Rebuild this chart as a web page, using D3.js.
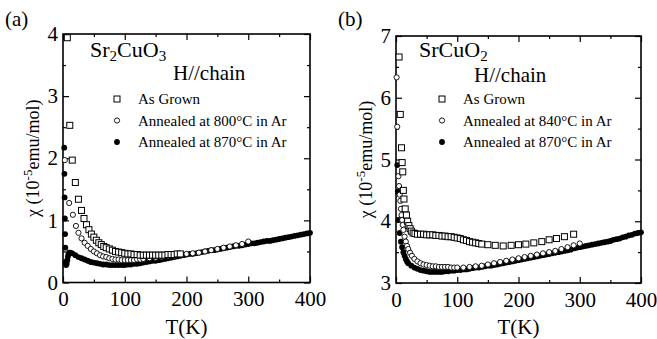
<!DOCTYPE html>
<html>
<head>
<meta charset="utf-8">
<script src="https://cdn.jsdelivr.net/npm/d3@7"></script>
<style>
  body { margin: 0; background: #fff; }
  svg { display: block; font-family: "Liberation Serif", "Times New Roman", serif; }
</style>
</head>
<body>
<div id="chart"></div>
<script>
// ---- panel (a) Sr2CuO3 ----
const aGrownT = [7, 11, 15, 20, 25, 30, 34, 38, 42, 46, 50, 54, 58, 62, 66, 70, 75, 80, 85, 90, 95, 100, 105, 110, 115, 120, 125, 130, 135, 140, 145, 150, 155, 160, 165, 170, 175, 180, 185, 190];
const aGrownChi = [3.94, 2.53, 1.97, 1.61, 1.34, 1.16, 1.03, 0.93, 0.85, 0.78, 0.73, 0.68, 0.64, 0.61, 0.58, 0.56, 0.54, 0.52, 0.5, 0.49, 0.48, 0.47, 0.46, 0.46, 0.45, 0.45, 0.44, 0.44, 0.44, 0.44, 0.44, 0.44, 0.44, 0.44, 0.44, 0.45, 0.45, 0.45, 0.46, 0.46];

const a800T = [3, 10, 16, 21, 25, 30, 35, 40, 45, 50, 55, 60, 65, 70, 75, 80, 85, 90, 95, 100, 105, 110, 115, 120, 125, 130, 140, 150, 160, 170, 180, 190, 200, 210, 220, 230, 240, 250, 260, 270, 280, 290, 300];
const a800Chi = [1.97, 1.28, 1.09, 0.91, 0.8, 0.71, 0.64, 0.59, 0.54, 0.5, 0.47, 0.44, 0.42, 0.41, 0.39, 0.38, 0.37, 0.37, 0.36, 0.36, 0.36, 0.36, 0.36, 0.37, 0.37, 0.38, 0.39, 0.4, 0.41, 0.42, 0.43, 0.44, 0.46, 0.47, 0.48, 0.5, 0.52, 0.54, 0.56, 0.58, 0.6, 0.62, 0.66];

const a870T = [2, 2.3, 2.6, 3, 3.4, 3.8, 4.2, 5, 6, 7, 8, 9, 10, 12,
  15, 20, 25, 30, 35, 40, 45, 50, 55, 60, 65, 70, 75, 80, 85, 90, 95, 100,
  105, 110, 115, 120, 125, 130, 135, 140, 145, 150, 155, 160, 165, 170, 175, 180, 185, 190, 195, 200,
  205, 210, 215, 220, 225, 230, 235, 240, 245, 250, 255, 260, 265, 270, 275, 280, 285, 290, 295, 300,
  305, 310, 315, 320, 325, 330, 335, 340, 345, 350, 355, 360, 365, 370, 375, 380, 385, 390, 395, 400];
const a870Chi = [2.17, 1.75, 1.37, 1.03, 0.78, 0.56, 0.33, 0.28, 0.3, 0.36, 0.42, 0.46, 0.48, 0.48,
  0.47, 0.44, 0.41, 0.39, 0.37, 0.35, 0.33, 0.32, 0.31, 0.3, 0.29, 0.29, 0.28, 0.28, 0.28, 0.28, 0.28, 0.28,
  0.29, 0.29, 0.3, 0.3, 0.31, 0.32, 0.33, 0.34, 0.35, 0.35, 0.36, 0.37, 0.38, 0.39, 0.4, 0.41, 0.42, 0.43, 0.44, 0.45,
  0.46, 0.46, 0.47, 0.48, 0.49, 0.5, 0.51, 0.52, 0.52, 0.53, 0.54, 0.55, 0.56, 0.57, 0.58, 0.59, 0.59, 0.6, 0.61, 0.62,
  0.63, 0.63, 0.64, 0.65, 0.66, 0.67, 0.67, 0.68, 0.69, 0.7, 0.71, 0.72, 0.73, 0.74, 0.75, 0.76, 0.77, 0.78, 0.79, 0.8];

// ---- panel (b) SrCuO2 ----
const bGrownT = [5, 7, 9, 10, 11, 12, 13, 15, 17, 19, 21, 23, 25, 28, 31, 35, 40, 45, 50, 55, 60, 65, 70, 75, 80, 85, 90, 95, 100, 105, 110, 115, 120, 125, 130, 135, 140, 150, 162, 175, 188, 200, 212, 225, 238, 250, 262, 275, 290];
const bGrownChi = [6.66, 5.73, 5.19, 4.95, 4.8, 4.5, 4.36, 4.2, 4.1, 4.0, 3.93, 3.88, 3.84, 3.81, 3.8, 3.79, 3.79, 3.79, 3.78, 3.78, 3.78, 3.77, 3.77, 3.76, 3.76, 3.75, 3.75, 3.74, 3.73, 3.72, 3.7, 3.69, 3.67, 3.66, 3.65, 3.64, 3.63, 3.62, 3.61, 3.6, 3.61, 3.62, 3.63, 3.65, 3.67, 3.7, 3.72, 3.75, 3.79];

const b840T = [1, 2, 4, 5, 6, 7, 8, 9, 10, 11, 12, 14, 16, 18, 20, 23, 26, 30, 35, 40, 45, 50, 55, 60, 65, 70, 75, 80, 85, 90, 95, 100, 110, 120, 130, 140, 150, 160, 170, 180, 190, 200, 210, 220, 230, 240, 250, 260, 270, 280, 290, 300];
const b840Chi = [6.33, 5.53, 4.73, 4.57, 4.43, 4.33, 4.2, 4.1, 4.02, 3.94, 3.86, 3.75, 3.67, 3.6, 3.55, 3.49, 3.44, 3.39, 3.35, 3.32, 3.3, 3.29, 3.28, 3.27, 3.27, 3.26, 3.26, 3.26, 3.26, 3.25, 3.25, 3.25, 3.25, 3.26, 3.27, 3.28, 3.3, 3.32, 3.34, 3.36, 3.38, 3.4, 3.42, 3.44, 3.46, 3.48, 3.5, 3.52, 3.55, 3.58, 3.61, 3.64];

const b870T = [2, 3, 4, 6, 8, 10, 12, 14, 16, 18, 20,
  25, 30, 35, 40, 45, 50, 55, 60, 65, 70, 75, 80, 85, 90, 95, 100,
  105, 110, 115, 120, 125, 130, 135, 140, 145, 150, 155, 160, 165, 170, 175, 180, 185, 190, 195, 200,
  205, 210, 215, 220, 225, 230, 235, 240, 245, 250, 255, 260, 265, 270, 275, 280, 285, 290, 295, 300,
  305, 310, 315, 320, 325, 330, 335, 340, 345, 350, 355, 360, 365, 370, 375, 380, 385, 390, 395, 400];
const b870Chi = [4.91, 4.48, 4.02, 3.81, 3.67, 3.58, 3.5, 3.44, 3.39, 3.35, 3.32,
  3.28, 3.25, 3.23, 3.21, 3.2, 3.19, 3.18, 3.18, 3.18, 3.18, 3.18, 3.19, 3.19, 3.2, 3.2, 3.21,
  3.21, 3.22, 3.22, 3.23, 3.24, 3.25, 3.25, 3.26, 3.27, 3.28, 3.28, 3.29, 3.3, 3.31, 3.32, 3.33, 3.34, 3.35, 3.36, 3.37,
  3.38, 3.39, 3.4, 3.41, 3.42, 3.43, 3.44, 3.45, 3.46, 3.47, 3.48, 3.49, 3.5, 3.51, 3.52, 3.53, 3.54, 3.56, 3.57, 3.58,
  3.59, 3.6, 3.61, 3.62, 3.63, 3.64, 3.65, 3.66, 3.67, 3.68, 3.7, 3.71, 3.72, 3.74, 3.75, 3.77, 3.78, 3.8, 3.81, 3.82];

const xTicks = [0, 100, 200, 300, 400];
const xMinor = [50, 150, 250, 350];
const aYTicks = [0, 1, 2, 3, 4];
const aYMinor = [0.5, 1.5, 2.5, 3.5];
const bYTicks = [3, 4, 5, 6, 7];
const bYMinor = [3.5, 4.5, 5.5, 6.5];

const width = 657, height = 339;

const svg = d3.select("#chart").append("svg")
  .attr("width", width)
  .attr("height", height);

function zip(t, c) { return t.map((v, i) => [v, c[i]]); }

function tickAxis(g, axis, tr, values, size, withLabels, pad) {
  g.append("g").attr("transform", tr)
    .call(axis.tickValues(values).tickSizeInner(-size).tickSizeOuter(0)
      .tickPadding(pad).tickFormat(withLabels ? d3.format("d") : ""))
    .call(s => s.select(".domain").remove())
    .call(s => s.selectAll("text").attr("font-size", 21).attr("fill", "#000")
      .attr("font-family", "Liberation Serif, Times New Roman, serif"))
    .call(s => s.selectAll("line").attr("stroke", "#000").attr("stroke-width", 1.2));
}

function drawPanel(p) {
  const x = d3.scaleLinear().domain([0, 400]).range([p.left, p.right]);
  const y = d3.scaleLinear().domain(p.yDomain).range([p.bottom, p.top]);
  const g = svg.append("g");

  // ticks on all four sides, pointing inward
  tickAxis(g, d3.axisBottom(x), `translate(0,${p.bottom})`, xTicks, 6, true, 9);
  tickAxis(g, d3.axisBottom(x), `translate(0,${p.bottom})`, xMinor, 3, false, 9);
  tickAxis(g, d3.axisTop(x), `translate(0,${p.top})`, xTicks, 6, false, 0);
  tickAxis(g, d3.axisTop(x), `translate(0,${p.top})`, xMinor, 3, false, 0);
  tickAxis(g, d3.axisLeft(y), `translate(${p.left},0)`, p.yTicks, 6, true, 5);
  tickAxis(g, d3.axisLeft(y), `translate(${p.left},0)`, p.yMinor, 3, false, 5);
  tickAxis(g, d3.axisRight(y), `translate(${p.right},0)`, p.yTicks, 6, false, 0);
  tickAxis(g, d3.axisRight(y), `translate(${p.right},0)`, p.yMinor, 3, false, 0);

  g.append("rect")
    .attr("x", p.left).attr("y", p.top)
    .attr("width", p.right - p.left).attr("height", p.bottom - p.top)
    .attr("fill", "none").attr("stroke", "#000").attr("stroke-width", 1.6);

  // data: filled dots first, open circles, then open squares
  g.append("g").selectAll("circle").data(zip(p.s3T, p.s3Chi)).join("circle")
    .attr("cx", d => x(d[0])).attr("cy", d => y(d[1])).attr("r", 2.9)
    .attr("fill", "#000");
  g.append("g").selectAll("circle").data(zip(p.s2T, p.s2Chi)).join("circle")
    .attr("cx", d => x(d[0])).attr("cy", d => y(d[1])).attr("r", 2.6)
    .attr("fill", "#fff").attr("stroke", "#000").attr("stroke-width", 0.9);
  g.append("g").selectAll("rect").data(zip(p.s1T, p.s1Chi)).join("rect")
    .attr("x", d => x(d[0]) - 3).attr("y", d => y(d[1]) - 3)
    .attr("width", 6).attr("height", 6)
    .attr("fill", "#fff").attr("stroke", "#000").attr("stroke-width", 1);

  // panel letter
  g.append("text").attr("x", p.letterX).attr("y", 26)
    .attr("font-size", 21).text(p.letter);

  // axis titles
  g.append("text")
    .attr("x", (p.left + p.right) / 2).attr("y", 334)
    .attr("text-anchor", "middle").attr("font-size", 21)
    .text("T(K)");

  const yl = g.append("text")
    .attr("transform", `translate(${p.left - 24},${(p.top + p.bottom) / 2}) rotate(-90)`)
    .attr("text-anchor", "middle").attr("font-size", 18);
  yl.append("tspan").text("\u03c7 (10");
  yl.append("tspan").attr("dy", -7).attr("font-size", 13).text("-5");
  yl.append("tspan").attr("dy", 7).text("emu/mol)");

  // compound name with subscripts
  const cn = g.append("text").attr("x", p.nameX).attr("y", p.nameY).attr("font-size", 22);
  let shift = 0;
  p.name.forEach(([txt, sub]) => {
    const target = sub ? 4 : 0;
    cn.append("tspan").attr("dy", target - shift).attr("font-size", sub ? 15 : 22).text(txt);
    shift = target;
  });

  g.append("text").attr("x", p.fieldX).attr("y", p.fieldY)
    .attr("font-size", 21).text("H//chain");

  // legend
  const lx = p.legendX, ly = p.legendY, gap = 21.5;
  g.append("rect").attr("x", lx - 3).attr("y", ly - 3).attr("width", 6).attr("height", 6)
    .attr("fill", "#fff").attr("stroke", "#000").attr("stroke-width", 1);
  g.append("circle").attr("cx", lx).attr("cy", ly + gap).attr("r", 2.6)
    .attr("fill", "#fff").attr("stroke", "#000").attr("stroke-width", 0.9);
  g.append("circle").attr("cx", lx).attr("cy", ly + 2 * gap).attr("r", 2.9).attr("fill", "#000");
  p.legend.forEach((t, i) => {
    g.append("text").attr("x", lx + 21).attr("y", ly + i * gap + 5)
      .attr("font-size", 15).text(t);
  });
}

drawPanel({
  left: 63, right: 310, top: 34, bottom: 282.5,
  yDomain: [0, 4], yTicks: aYTicks, yMinor: aYMinor,
  s1T: aGrownT, s1Chi: aGrownChi, s2T: a800T, s2Chi: a800Chi, s3T: a870T, s3Chi: a870Chi,
  letter: "(a)", letterX: 5,
  name: [["Sr", false], ["2", true], ["CuO", false], ["3", true]], nameX: 90, nameY: 57,
  fieldX: 173, fieldY: 80,
  legendX: 117, legendY: 99,
  legend: ["As Grown", "Annealed at 800\u00b0C in Ar", "Annealed at 870\u00b0C in Ar"]
});

drawPanel({
  left: 396, right: 641, top: 36, bottom: 283,
  yDomain: [3, 7], yTicks: bYTicks, yMinor: bYMinor,
  s1T: bGrownT, s1Chi: bGrownChi, s2T: b840T, s2Chi: b840Chi, s3T: b870T, s3Chi: b870Chi,
  letter: "(b)", letterX: 338,
  name: [["SrCuO", false], ["2", true]], nameX: 419, nameY: 57,
  fieldX: 474, fieldY: 82,
  legendX: 442, legendY: 99,
  legend: ["As Grown", "Annealed at 840\u00b0C in Ar", "Annealed at 870\u00b0C in Ar"]
});
</script>
</body>
</html>
